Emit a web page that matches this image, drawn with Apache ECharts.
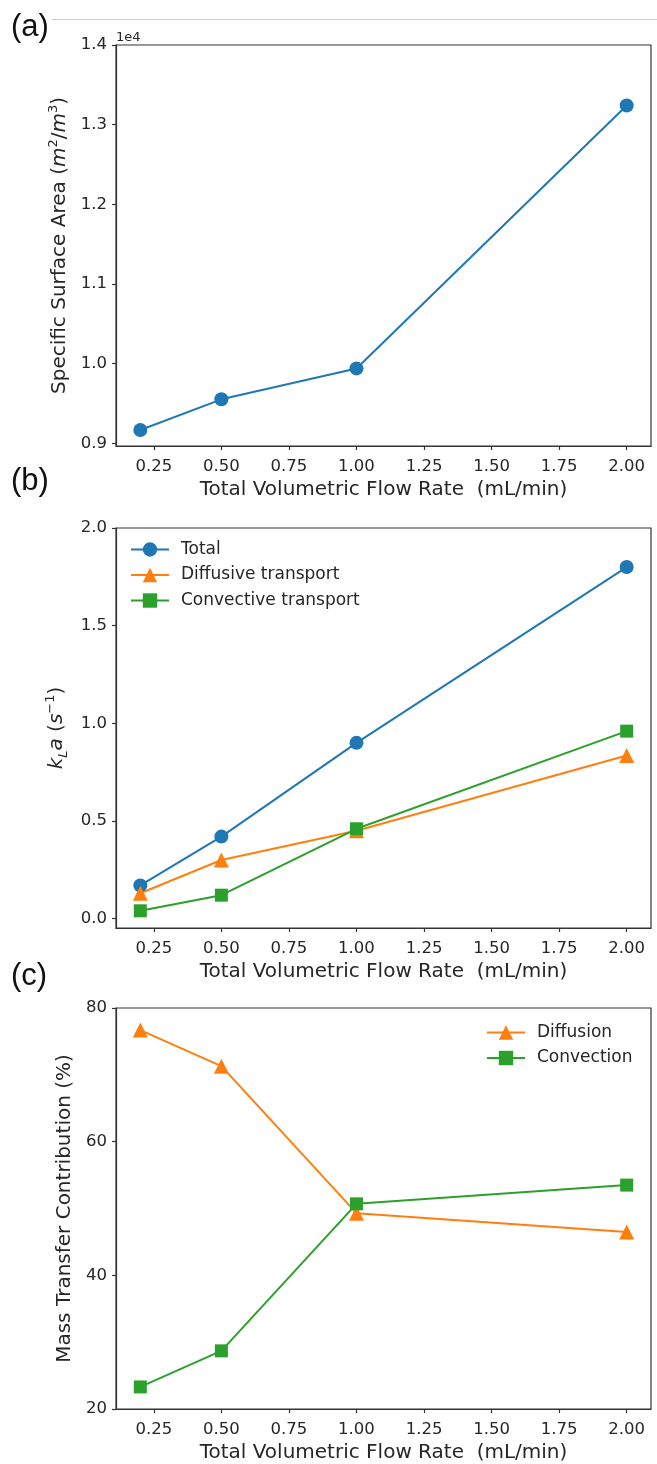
<!DOCTYPE html>
<html>
<head>
<meta charset="utf-8">
<script src="https://cdn.jsdelivr.net/npm/echarts@6/dist/echarts.min.js"></script>
<style>
  html, body { margin: 0; padding: 0; background: #fff; }
  #chart { width: 657px; height: 1464px; }
</style>
</head>
<body>
<div id="chart"></div>
<script>
// Flow rates (mL/min) shared by all three panels
const flowRates = [0.2, 0.5, 1.0, 2.0];

// (a) specific surface area, m^2/m^3
const specificArea = [9167, 9552, 9940, 13240];

// (b) volumetric mass-transfer coefficient kLa, 1/s
const klaTotal = [0.17, 0.42, 0.90, 1.80];
const klaDiffusive = [0.13, 0.30, 0.45, 0.835];
const klaConvective = [0.04, 0.12, 0.46, 0.96];

// (c) share of each mechanism, %
const diffusionPct = [76.7, 71.3, 49.3, 46.5];
const convectionPct = [23.3, 28.7, 50.7, 53.5];

// tick positions
const flowTicks = [0.25, 0.5, 0.75, 1.0, 1.25, 1.5, 1.75, 2.0];
const areaTicks = [9000, 10000, 11000, 12000, 13000, 14000];
const klaTicks = [0, 0.5, 1.0, 1.5, 2.0];
const pctTicks = [20, 40, 60, 80];

const FONT = 'DejaVu Sans';
const TXT = '#262626';
const SPINE = '#333333';
const C_BLUE = '#1f77b4', C_ORANGE = '#ff7f0e', C_GREEN = '#2ca02c';

const pairs = (ys) => flowRates.map((x, i) => [x, ys[i]]);

function xAxisFor(gridIndex) {
  return {
    type: 'value', gridIndex, min: 0.11, max: 2.09,
    name: 'Total Volumetric Flow Rate  (mL/min)',
    nameLocation: 'middle', nameGap: 34,
    nameTextStyle: { fontFamily: FONT, fontSize: 20, color: TXT },
    axisLine: { show: true, onZero: false, lineStyle: { color: SPINE, width: 1.2 } },
    axisTick: { show: true, length: 4, customValues: flowTicks, lineStyle: { color: SPINE, width: 1.2 } },
    axisLabel: { customValues: flowTicks, margin: 12, fontFamily: FONT, fontSize: 16.5, color: TXT,
      formatter: (v) => v.toFixed(2) },
    splitLine: { show: false }
  };
}

function yAxisFor(gridIndex, min, max, ticks, fmt, name, rich, gap) {
  return {
    type: 'value', gridIndex, min, max,
    name, nameLocation: 'middle', nameGap: gap, nameRotate: 90,
    nameTextStyle: { fontFamily: FONT, fontSize: 20, color: TXT, rich },
    axisLine: { show: true, onZero: false, lineStyle: { color: SPINE, width: 1.2 } },
    axisTick: { show: true, length: 4, customValues: ticks, lineStyle: { color: SPINE, width: 1.2 } },
    axisLabel: { customValues: ticks, margin: 9, fontFamily: FONT, fontSize: 16.5, color: TXT, formatter: fmt },
    splitLine: { show: false }
  };
}

const base = { fontFamily: FONT, fontSize: 20, color: TXT, lineHeight: 26 };
const richArea = {
  t: base,
  i: Object.assign({}, base, { fontStyle: 'italic' }),
  s: { fontFamily: FONT, fontSize: 13, color: TXT, lineHeight: 26, verticalAlign: 'top' }
};
const richKla = {
  t: base,
  i: Object.assign({}, base, { fontStyle: 'italic' }),
  sub: { fontFamily: FONT, fontSize: 13, color: TXT, lineHeight: 26, fontStyle: 'italic', verticalAlign: 'bottom' },
  s: { fontFamily: FONT, fontSize: 13, color: TXT, lineHeight: 26, verticalAlign: 'top' }
};
const richPlain = { t: base };

function lineSeries(name, data, color, symbol, size, xi) {
  return {
    type: 'line', name, data, xAxisIndex: xi, yAxisIndex: xi,
    symbol, symbolSize: size, showSymbol: true,
    lineStyle: { color, width: 2 },
    itemStyle: { color, borderWidth: 0 },
    emphasis: { disabled: true },
    animation: false
  };
}

const legendText = { fontFamily: FONT, fontSize: 17, color: TXT, padding: [0, 0, 0, 7] };

const option = {
  backgroundColor: '#ffffff',
  animation: false,
  grid: [
    { left: 116, right: 6, top: 45, height: 401, show: true, borderColor: SPINE, borderWidth: 1.2 },
    { left: 116, right: 6, top: 528, height: 400, show: true, borderColor: SPINE, borderWidth: 1.2 },
    { left: 116, right: 6, top: 1008, height: 403, show: true, borderColor: SPINE, borderWidth: 1.2 }
  ],
  xAxis: [xAxisFor(0), xAxisFor(1), xAxisFor(2)],
  yAxis: [
    yAxisFor(0, 8966, 14000, areaTicks, (v) => (v / 1e4).toFixed(1),
      '{t|Specific Surface Area (}{i|m}{s|2}{t|/}{i|m}{s|3}{t|)}', richArea, 41),
    yAxisFor(1, -0.048, 2.0, klaTicks, (v) => v.toFixed(1),
      '{i|k}{sub|L}{i|a }{t|(}{i|s}{s|−1}{t|)}', richKla, 38),
    yAxisFor(2, 20, 80, pctTicks, (v) => String(Math.round(v)),
      '{t|Mass Transfer Contribution (%)}', richPlain, 36)
  ],
  legend: [
    {
      orient: 'vertical', left: 130, top: 541, padding: 0, itemWidth: 38, itemHeight: 18, itemGap: 8.5,
      data: ['Total', 'Diffusive transport', 'Convective transport'],
      textStyle: legendText, selectedMode: false
    },
    {
      orient: 'vertical', left: 486, top: 1024, padding: 0, itemWidth: 38, itemHeight: 18, itemGap: 8.5,
      data: ['Diffusion', 'Convection'],
      textStyle: legendText, selectedMode: false
    }
  ],
  series: [
    lineSeries('Specific surface area', pairs(specificArea), C_BLUE, 'circle', 14, 0),
    lineSeries('Total', pairs(klaTotal), C_BLUE, 'circle', 14, 1),
    lineSeries('Diffusive transport', pairs(klaDiffusive), C_ORANGE, 'triangle', 15, 1),
    lineSeries('Convective transport', pairs(klaConvective), C_GREEN, 'rect', 13, 1),
    lineSeries('Diffusion', pairs(diffusionPct), C_ORANGE, 'triangle', 15, 2),
    lineSeries('Convection', pairs(convectionPct), C_GREEN, 'rect', 13, 2)
  ],
  graphic: [
    { type: 'line', shape: { x1: 52, y1: 19.5, x2: 657, y2: 19.5 }, style: { stroke: '#cccccc', lineWidth: 1 } },
    { type: 'text', left: 116, top: 31, style: { text: '1e4', font: '13px "DejaVu Sans"', fill: TXT } },
    { type: 'text', left: 11, top: 12, style: { text: '(a)', font: '31px "Liberation Sans"', fill: '#111' } },
    { type: 'text', left: 11, top: 466, style: { text: '(b)', font: '31px "Liberation Sans"', fill: '#111' } },
    { type: 'text', left: 11, top: 961, style: { text: '(c)', font: '31px "Liberation Sans"', fill: '#111' } }
  ]
};

const chart = echarts.init(document.getElementById('chart'), null, { renderer: 'canvas' });
chart.setOption(option);
</script>
</body>
</html>
